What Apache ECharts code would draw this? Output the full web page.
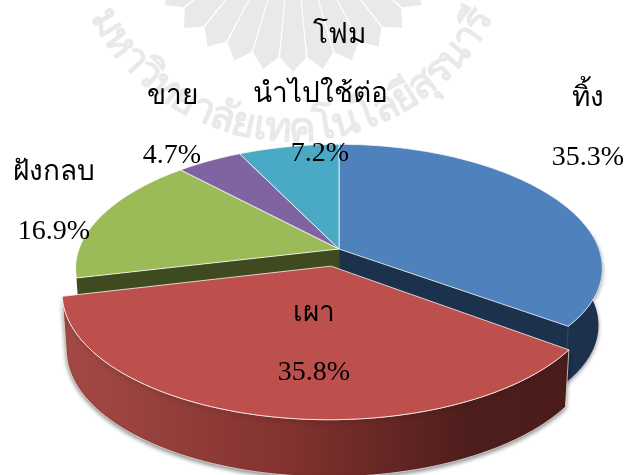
<!DOCTYPE html>
<html>
<head>
<meta charset="utf-8">
<style>html,body{margin:0;padding:0;background:#fff}#chart{width:625px;height:475px}</style>
<script src="https://cdn.jsdelivr.net/npm/echarts@6/dist/echarts.min.js"></script>
</head>
<body>
<div id="chart"></div>
<script>
const categories = ['ทิ้ง', 'เผา', 'ฝังกลบ', 'ขาย', 'โฟม\nนำไปใช้ต่อ']
const shares = [35.3, 35.8, 16.9, 4.7, 7.2]
const topColors = ['#4f81bd', '#bd4f4c', '#9bbb59', '#8064a2', '#4aaac5']
const wallColors = ['#1c314c', '#4b1c1b', '#3f4a20', '#4d3c62', '#2c6676']
const drawOrder = [0, 2, 3, 4, 1]
const labelSpots = [[588, 128], [314, 343], [54, 202], [172, 126], [320, 95]]
const sealWords = ['ม', 'ห', 'า', 'วิ', 'ท', 'ย', 'า', 'ลั', 'ย', 'เ', 'ท', 'ค', 'โ', 'น', 'โ', 'ล', 'ยี', 'สุ', 'ร', 'น', 'า', 'รี']

const total = shares.reduce((a, b) => a + b, 0)
const starts = []
shares.reduce((sum, v, i) => { starts[i] = sum / total * Math.PI * 2; return sum + v }, 0)

// flat disc seen in perspective, red one is pulled out with stronger foreshortening
const flat = { cx: 339, cy: 249, a: 260, b: 118, px: 0.16, py: 0.127, shift: 0 }
const pulled = { cx: 339, cy: 249, a: 255, b: 113, px: 0.2, py: 0.21, shift: 0.15 }
const depth = 57

function project(view, mid, t, r) {
  const u = Math.sin(t) * r + Math.sin(mid) * view.shift
  const v = -Math.cos(t) * r - Math.cos(mid) * view.shift
  return [view.cx + view.a * u / (1 - view.px * v), view.cy + view.b * v / (1 - view.py * v)]
}

function drop(pt) {
  return [339 + (pt[0] - 339) * 0.985, pt[1] + depth]
}

function rimPoints(view, mid, from, to) {
  const pts = []
  const steps = 80
  for (let i = 0; i <= steps; i++) {
    pts.push(project(view, mid, from + (to - from) * i / steps, 1))
  }
  return pts
}

function renderSlice(params, api) {
  const i = api.value(0)
  const from = starts[i]
  const to = from + shares[i] / total * Math.PI * 2
  const mid = (from + to) / 2
  const view = i === 1 ? pulled : flat
  const rim = rimPoints(view, mid, from, to)
  const apex = project(view, mid, 0, 0)
  const children = []

  if (i === 0) {
    // outside wall on the right and the cut face
    const outer = rimPoints(view, mid, Math.PI * 0.45, to)
    children.push({
      type: 'polygon',
      shape: { points: outer.concat(outer.slice().reverse().map(drop)) },
      style: { fill: wallColors[0], shadowBlur: 4, shadowColor: 'rgba(0,0,0,0.45)', shadowOffsetY: 2 }
    })
    const end = rim[rim.length - 1]
    children.push({
      type: 'polygon',
      shape: { points: [apex, end, drop(end), drop(apex)] },
      style: { fill: wallColors[0], stroke: '#2d4560', lineWidth: 1 }
    })
  }
  if (i === 2) {
    const end = rim[0]
    children.push({
      type: 'polygon',
      shape: { points: [apex, end, drop(end), drop(apex)] },
      style: { fill: wallColors[2] }
    })
  }
  if (i === 1) {
    children.push({
      type: 'polygon',
      shape: { points: rim.concat(rim.slice().reverse().map(drop)) },
      style: {
        fill: new echarts.graphic.LinearGradient(0, 0, 1, 0, [
          { offset: 0, color: '#a44a46' },
          { offset: 0.45, color: '#82322f' },
          { offset: 0.8, color: '#4e1e1c' },
          { offset: 1, color: '#4b1c1b' }
        ]),
        stroke: '#e6dcdc',
        lineWidth: 0.8,
        shadowBlur: 4,
        shadowColor: 'rgba(0,0,0,0.45)',
        shadowOffsetY: 2
      }
    })
  }
  children.push({
    type: 'polygon',
    shape: { points: [apex].concat(rim) },
    style: { fill: topColors[i], stroke: 'rgba(255,255,255,0.75)', lineWidth: 1 }
  })
  return { type: 'group', children }
}

// the long label has its first line pushed right, as in the source picture
function lineNudge(i, line, count) {
  return i === 4 && line === 0 && count === 3 ? 19 : 0
}

function renderLabel(params, api) {
  const i = api.value(0)
  const lines = (categories[i] + '\n' + shares[i].toFixed(1) + '%').split('\n')
  const gap = 59
  return {
    type: 'group',
    children: lines.map((line, n) => ({
      type: 'text',
      x: labelSpots[i][0] + lineNudge(i, n, lines.length),
      y: labelSpots[i][1] + (n - (lines.length - 1) / 2) * gap,
      style: {
        text: line,
        fill: '#000',
        font: '28px "Liberation Serif", "Noto Sans", serif',
        align: 'center',
        verticalAlign: 'middle'
      }
    }))
  }
}

// pale seal behind the chart
const sealColor = '#e9e9e9'
const seal = []
const rayCx = 293
const rayCy = -85
const at = (r, a) => [rayCx + r * Math.sin(a), rayCy + r * Math.cos(a)]
for (let d = -66; d <= 66; d += 11) {
  const t = d * Math.PI / 180
  const w = 5.2 * Math.PI / 180
  seal.push({
    type: 'polygon',
    z: 0,
    shape: { points: [at(70, t - w), at(143, t - w), at(157, t), at(143, t + w), at(70, t + w)] },
    style: { fill: sealColor }
  })
}

// letters spaced along the arc by their own width
const sealCx = 292
const sealCy = -85
const sealRadius = 235
const sealFont = 'bold 41px "Noto Sans", sans-serif'
const ruler = document.createElement('canvas').getContext('2d')
ruler.font = sealFont
const widths = sealWords.map(w => ruler.measureText(w).width)
const widthSum = widths.reduce((a, b) => a + b, 0)
let run = 0
sealWords.forEach((word, i) => {
  const t = (-63 + 126 * (run + widths[i] / 2) / widthSum) * Math.PI / 180
  run += widths[i]
  seal.push({
    type: 'text',
    z: 0,
    x: sealCx + sealRadius * Math.sin(t),
    y: sealCy + sealRadius * Math.cos(t),
    rotation: t,
    style: {
      text: word,
      fill: sealColor,
      font: sealFont,
      align: 'center',
      verticalAlign: 'bottom'
    }
  })
})

const myChart = echarts.init(document.getElementById('chart'), null, { renderer: 'canvas' })
myChart.setOption({
  animation: false,
  graphic: seal,
  series: [
    {
      type: 'custom',
      coordinateSystem: 'none',
      z: 2,
      silent: true,
      renderItem: renderSlice,
      data: drawOrder.map(i => [i])
    },
    {
      type: 'custom',
      coordinateSystem: 'none',
      z: 3,
      silent: true,
      renderItem: renderLabel,
      data: shares.map((v, i) => [i])
    }
  ]
})
</script>
</body>
</html>
